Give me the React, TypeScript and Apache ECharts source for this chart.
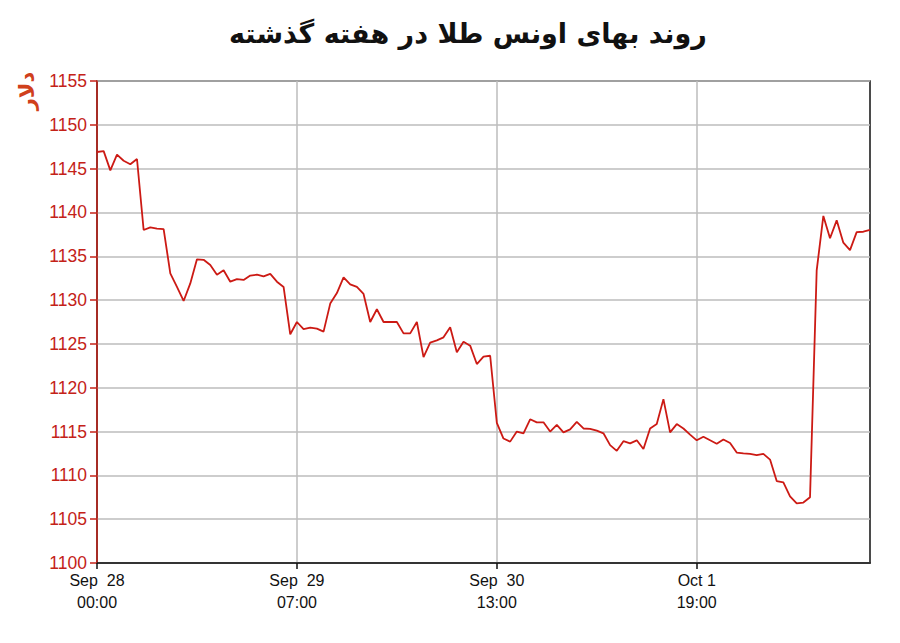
import React, { useEffect, useRef } from "react";
import * as echarts from "echarts";

const titleText = "روند بهای اونس طلا در هفته گذشته";
const yAxisName = "دلار";

const tickLabels = [
  { index: 0, label: "Sep  28\n00:00" },
  { index: 30, label: "Sep  29\n07:00" },
  { index: 60, label: "Sep  30\n13:00" },
  { index: 90, label: "Oct 1\n19:00" },
];

const prices = [
  1146.9, 1147.0, 1144.8, 1146.6, 1145.9, 1145.5, 1146.1, 1138.0, 1138.3, 1138.15,
  1138.1, 1133.05, 1131.5, 1129.9, 1131.9, 1134.65, 1134.6, 1134.0, 1132.9, 1133.4,
  1132.1, 1132.4, 1132.3, 1132.8, 1132.9, 1132.7, 1133.0, 1132.1, 1131.5, 1126.1,
  1127.5, 1126.7, 1126.85, 1126.75, 1126.4, 1129.6, 1130.8, 1132.6, 1131.8, 1131.5,
  1130.7, 1127.5, 1128.95, 1127.5, 1127.5, 1127.5, 1126.2, 1126.2, 1127.5, 1123.5,
  1125.15, 1125.4, 1125.75, 1126.9, 1124.05, 1125.25, 1124.8, 1122.7, 1123.55, 1123.65,
  1116.0, 1114.2, 1113.85, 1115.0, 1114.8, 1116.4, 1116.05, 1116.05, 1115.0, 1115.75,
  1114.9, 1115.25, 1116.1, 1115.35, 1115.3, 1115.1, 1114.8, 1113.45, 1112.8, 1113.9,
  1113.65, 1114.0, 1113.0, 1115.35, 1115.85, 1118.7, 1114.9, 1115.85, 1115.35, 1114.65,
  1114.0, 1114.4, 1114.0, 1113.6, 1114.1, 1113.7, 1112.6, 1112.5, 1112.45, 1112.3,
  1112.45, 1111.8, 1109.35, 1109.2, 1107.6, 1106.8, 1106.9, 1107.5, 1133.4, 1139.6,
  1137.05, 1139.1, 1136.55, 1135.7, 1137.75, 1137.8, 1138.0,
];

const yMin = 1100;
const yMax = 1155;
const yStep = 5;

const categories: string[] = prices.map((_, i) => {
  const t = tickLabels.find((tl) => tl.index === i);
  return t ? t.label : "";
});

const isTick = (i: number) => tickLabels.some((tl) => tl.index === i);

export default function App() {
  const ref = useRef<HTMLDivElement>(null);
  useEffect(() => {
    document.body.style.margin = "0";
    if (!ref.current) return;
    const chart = echarts.init(ref.current, null, { renderer: "svg" });
    const red = "#c42218";
    chart.setOption({
      animation: false,
      backgroundColor: "#ffffff",
      title: {
        text: titleText,
        left: 224,
        top: 15,
        textStyle: {
          fontFamily: "DejaVu Sans",
          fontWeight: "bold",
          fontSize: 27,
          color: "#111",
        },
      },
      graphic: [
        {
          type: "text",
          x: 27,
          y: 91,
          rotation: Math.PI / 2,
          style: {
            text: yAxisName,
            fill: "#d0401c",
            font: "bold 21px 'DejaVu Sans'",
            align: "center",
            verticalAlign: "middle",
          },
        },
      ],
      grid: {
        left: 97,
        top: 81,
        right: 30,
        bottom: 80,
        show: true,
        borderColor: "#111",
        borderWidth: 1.5,
        backgroundColor: "transparent",
      },
      xAxis: {
        type: "category",
        data: categories,
        boundaryGap: false,
        axisLine: { show: true, lineStyle: { color: "#111", width: 1.5 } },
        axisTick: {
          show: true,
          length: 6,
          interval: (i: number) => isTick(i),
          lineStyle: { color: "#111", width: 1.5 },
        },
        axisLabel: {
          interval: (i: number) => isTick(i),
          color: "#111",
          fontFamily: "Liberation Sans",
          fontSize: 16,
          lineHeight: 22,
          margin: 6,
        },
        splitLine: {
          show: true,
          interval: (i: number) => isTick(i) && i !== 0,
          lineStyle: { color: "#bdbdbd", width: 1.5 },
        },
      },
      yAxis: {
        type: "value",
        min: yMin,
        max: yMax,
        interval: yStep,
        axisLine: { show: true, lineStyle: { color: red, width: 1.5 } },
        axisTick: { show: true, length: 7, lineStyle: { color: red, width: 1.5 } },
        axisLabel: {
          color: red,
          fontFamily: "Liberation Sans",
          fontSize: 17.5,
          margin: 10,
          formatter: (v: number) => String(v),
        },
        splitLine: { show: true, lineStyle: { color: "#bdbdbd", width: 1.5 } },
      },
      series: [
        {
          type: "line",
          data: prices,
          symbol: "none",
          lineStyle: { color: "#cc1a14", width: 1.8 },
          z: 3,
        },
      ],
    });
    return () => chart.dispose();
  }, []);
  return <div ref={ref} style={{ width: 900, height: 643 }} />;
}
